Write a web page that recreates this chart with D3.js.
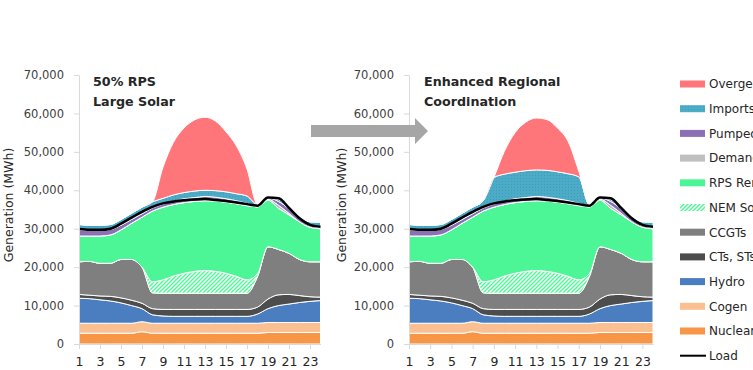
<!DOCTYPE html>
<html><head><meta charset="utf-8">
<script src="https://cdn.jsdelivr.net/npm/d3@7/dist/d3.min.js"></script>
<style>body{margin:0;background:#fff;overflow:hidden}svg{display:block;font-family:"DejaVu Sans",sans-serif}</style>
</head><body><svg id="c" width="753" height="370"></svg>
<script>
// ---------- data (MWh) ----------
const hours = [1,2,3,4,5,6,7,8,9,10,11,12,13,14,15,16,17,18,19,20,21,22,23,24];
const hourTicks = [1,3,5,7,9,11,13,15,17,19,21,23];
const yTicks = [0,10000,20000,30000,40000,50000,60000,70000];

const nuclear = [2800,2800,2800,2800,2800,2800,3200,2800,2800,2800,2800,2800,2800,2800,2800,2800,2800,2800,3000,3000,3000,3000,3000,3000];
const cogen   = [2600,2600,2600,2600,2600,2600,2600,2600,2600,2600,2600,2600,2600,2600,2600,2600,2600,2600,2600,2600,2600,2600,2600,2600];
const hydro   = [6500,6400,6100,5800,5300,4600,3400,2200,1900,1800,1800,1800,1800,1800,1800,1800,1800,2400,3600,4400,4800,5200,5500,5700];
const cts     = [1000,900,1000,1200,1300,1400,1400,1600,1700,1800,1800,1800,1800,1800,1800,1800,1800,1800,2500,2800,2500,1800,1200,900];
const ccgt    = [8500,8800,8500,8600,10000,10600,9400,4100,4200,4200,4200,4200,4200,4200,4200,4200,4200,7900,13600,11800,10700,9400,9100,9200];
const nem     = [0,0,0,0,0,0,0,2900,3500,4500,5200,5700,5900,5700,5200,4400,3500,800,0,0,0,0,0,0];
const rps     = [6700,6600,7100,7400,7700,9400,13000,18400,18900,18600,18400,18200,18200,18300,18500,18900,19300,17400,12100,10700,10000,9800,9000,8600];
const demandResponse = [0,0,0,0,0,0,0,0,0,0,0,0,0,0,0,0,0,0,300,800,400,0,0,0];
const pumped  = [1600,1500,1500,1400,1200,1000,900,800,800,900,1000,1000,1100,1000,900,800,600,300,300,1000,1200,800,400,300];
const importsLarge = [1400,1300,1300,1300,1500,1600,1700,1600,1500,1600,1600,1700,1600,1700,1800,1800,1900,300,0,500,700,700,1000,1400];
const overgenLarge = [0,0,0,0,0,0,0,0,8100,13700,16800,18500,19000,18100,15600,12400,7000,0,0,0,0,0,0,0];
const importsRegional = [1400,1300,1300,1300,1500,1600,1700,1900,6900,7000,6900,7000,6900,7000,7000,7000,6900,300,0,500,700,700,1000,1400];
const overgenRegional = [0,0,0,0,0,0,0,0,0,6000,10300,12600,13500,13200,11400,8400,1500,0,0,0,0,0,0,0];
const load    = [29900,29700,29700,30000,31300,32900,34400,35700,36600,37100,37400,37600,37700,37500,37200,36800,36400,36000,38100,37900,35400,32700,31000,30500];

const stackKeys = ["Nuclear","Cogen","Hydro","CTs, STs","CCGTs","NEM Solar","RPS Renewables","Demand Response","Pumped Storage","Imports","Overgeneration"];
const legendNames = ["Overgeneration","Imports","Pumped Storage","Demand Response","RPS Renewables","NEM Solar","CCGTs","CTs, STs","Hydro","Cogen","Nuclear","Load"];
const titles = [["50% RPS","Large Solar"],["Enhanced Regional","Coordination"]];

const colors = {
  "Overgeneration":"#fe757a","Imports":"url(#dots)","Pumped Storage":"#8c70b6","Demand Response":"#bfbfbf",
  "RPS Renewables":"#4cf595","NEM Solar":"url(#hatch)","CCGTs":"#7f7f7f","CTs, STs":"#4d4d4d",
  "Hydro":"#4a7ec0","Cogen":"#fac091","Nuclear":"#f79646"
};

// ---------- drawing ----------
const svg = d3.select("#c");
const defs = svg.append("defs");
const hatch = defs.append("pattern").attr("id","hatch").attr("patternUnits","userSpaceOnUse").attr("width",4).attr("height",4);
hatch.append("rect").attr("width",4).attr("height",4).attr("fill","#fff");
hatch.append("path").attr("d","M-1,1 l2,-2 M0,4 l4,-4 M3,5 l2,-2").attr("stroke","#4cf595").attr("stroke-width",1.4);
const dots = defs.append("pattern").attr("id","dots").attr("patternUnits","userSpaceOnUse").attr("width",3).attr("height",3);
dots.append("rect").attr("width",3).attr("height",3).attr("fill","#4cacc8");
dots.append("rect").attr("x",1).attr("y",1).attr("width",1).attr("height",1).attr("fill","#3f9cb8");

const y = d3.scaleLinear().domain([0,70000]).range([344,75]);

const panels = [
  {x0:79, x1:320.5, imports:importsLarge, overgen:overgenLarge, title:titles[0], titleX:93, labelX:9},
  {x0:409, x1:653, imports:importsRegional, overgen:overgenRegional, title:titles[1], titleX:424, labelX:342}
];

panels.forEach(p => {
  const x = d3.scaleLinear().domain([1,24]).range([p.x0,p.x1]);
  const rows = hours.map((h,i)=>({hour:h,
    "Nuclear":nuclear[i],"Cogen":cogen[i],"Hydro":hydro[i],"CTs, STs":cts[i],"CCGTs":ccgt[i],
    "NEM Solar":nem[i],"RPS Renewables":rps[i],"Demand Response":demandResponse[i],
    "Pumped Storage":pumped[i],"Imports":p.imports[i],"Overgeneration":p.overgen[i]}));
  const series = d3.stack().keys(stackKeys)(rows);
  const area = d3.area().curve(d3.curveMonotoneX).x(d=>x(d.data.hour)).y0(d=>y(d[0])).y1(d=>y(d[1]));
  const g = svg.append("g");
  g.selectAll("path.layer").data(series).join("path").attr("class","layer")
    .attr("d",area).attr("fill",d=>colors[d.key])
    .attr("stroke","#fff").attr("stroke-width",1).attr("stroke-linejoin","round");
  // load line
  g.append("path").datum(load)
    .attr("d",d3.line().curve(d3.curveMonotoneX).x((d,i)=>x(hours[i])).y(d=>y(d)))
    .attr("fill","none").attr("stroke","#000").attr("stroke-width",2.5).attr("stroke-linejoin","round");

  // axes
  const ya = svg.append("g").attr("transform",`translate(${p.x0},0)`)
    .call(d3.axisLeft(y).tickValues(yTicks).tickFormat(d3.format(",")).tickSize(5).tickPadding(10).tickSizeOuter(0));
  const xa = svg.append("g").attr("transform","translate(0,344)")
    .call(d3.axisBottom(x).tickValues(hourTicks).tickFormat(d3.format("d")).tickSize(5).tickPadding(8).tickSizeOuter(0));
  [ya,xa].forEach(a=>{
    a.select(".domain").attr("stroke","#d9d9d9");
    a.selectAll(".tick line").attr("stroke","#d9d9d9");
  });
  ya.selectAll("text").attr("font-size",11.5).attr("fill","#404040").attr("font-family","DejaVu Sans");
  xa.selectAll("text").attr("font-size",12.5).attr("fill","#262626").attr("font-family","DejaVu Sans");
  svg.append("text").attr("transform",`translate(${p.labelX+4},205) rotate(-90)`)
    .attr("text-anchor","middle").attr("font-size",12.5).attr("fill","#262626").text("Generation (MWh)");
  p.title.forEach((t,i)=>svg.append("text").attr("x",p.titleX).attr("y",86+i*20)
    .attr("font-size",12.7).attr("font-weight","bold").attr("fill","#262626").text(t));
});

// arrow between panels
svg.append("path").attr("d","M311,125 H415 V118 L428,131 L415,144 V137 H311 Z").attr("fill","#a6a6a6");

// legend
const lg = svg.append("g");
legendNames.forEach((n,i)=>{
  const cy = 84 + i*24.7;
  if(n==="Load"){
    lg.append("line").attr("x1",680).attr("x2",706).attr("y1",cy).attr("y2",cy).attr("stroke","#000").attr("stroke-width",2);
  } else {
    lg.append("rect").attr("x",680).attr("y",cy-3.5).attr("width",25).attr("height",7).attr("fill",colors[n]);
  }
  lg.append("text").attr("x",709).attr("y",cy).attr("dy","0.36em").attr("font-size",12).attr("fill","#262626").text(n);
});
</script></body></html>
